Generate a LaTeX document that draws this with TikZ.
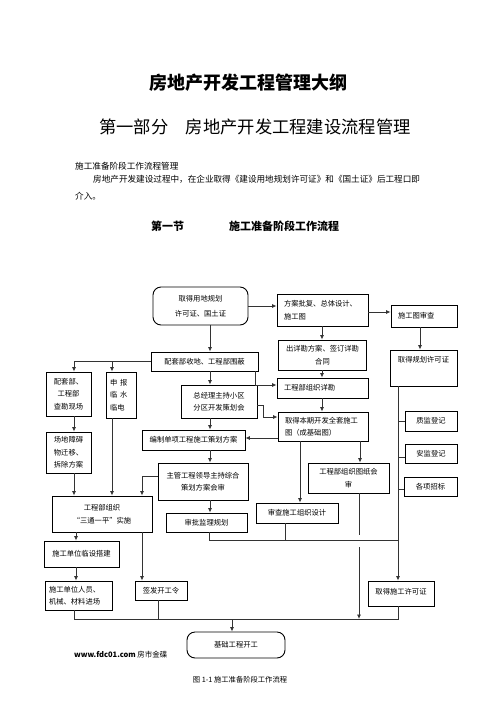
\documentclass[tikz,border=0pt]{standalone}
\usepackage{fontspec}
\setmainfont{Noto Sans CJK SC}
\usetikzlibrary{arrows.meta,calc}
\begin{document}
\begin{tikzpicture}[x=1pt,y=-1pt,
  box/.style={draw, line width=0.9pt, inner sep=2pt, font=\fontsize{7.3}{12.5}\selectfont, align=center},
  lbox/.style={box, align=left, inner xsep=7pt},
  rbox/.style={box, rounded corners=8pt},
  conn/.style={draw=black!80, line width=0.8pt},
  arr/.style={conn, -{Latex[length=4.5pt,width=4pt]}},
  txt/.style={inner sep=0pt},
]
\useasboundingbox (0,0) rectangle (496,702);
\fill[white] (0,0) rectangle (496,702);

% header texts
\node[txt, font=\fontsize{18}{20}\selectfont\bfseries] (title) at (248,83) {房地产开发工程管理大纲};
\node[txt, font=\fontsize{17.3}{20}\selectfont] (part) at (255,127) {第一部分\hspace{1em}房地产开发工程建设流程管理};
\node[txt, anchor=west, font=\fontsize{8.6}{10}\selectfont] (sub) at (75,166) {施工准备阶段工作流程管理};
\node[txt, anchor=west, font=\fontsize{8.6}{10}\selectfont] (para) at (93,179) {房地产开发建设过程中，在企业取得《建设用地规划许可证》和《国土证》后工程口即};
\node[txt, anchor=west, font=\fontsize{8.6}{10}\selectfont] (para2) at (75,196) {介入。};
\node[txt, font=\fontsize{11}{13}\selectfont\bfseries] (sec1) at (167.5,226) {第一节};
\node[txt, font=\fontsize{11}{13}\selectfont\bfseries] (sec2) at (284,226) {施工准备阶段工作流程};

% column / row coordinates
\foreach \xx in {74,76,112,142,158,209,210,232,255,263,285,300,322,359,360,398,420}
  \coordinate (x\xx) at (\xx,0);
\foreach \yy in {312,385,405,417,438,457,476,489,535,540,547,619}
  \coordinate (y\yy) at (0,\yy);

% boxes
\node[rbox, minimum width=95pt, minimum height=38pt] (A) at (200.5,306) {取得用地规划\\[2pt]许可证、国土证};
\node[lbox, text width=77pt, minimum height=32pt] (B) at (322.5,310) {方案批复、总体设计、\\施工图};
\node[lbox, text width=52pt, minimum height=22pt] (C) at (424,316) {施工图审查};
\node[box, text width=84pt, minimum height=30pt] (D) at (322.5,355) {出详勘方案、签订详勘\\合同};
\node[box, minimum width=67pt, minimum height=36pt, label={[anchor=north, inner sep=0pt, font=\fontsize{7.3}{9}\selectfont, yshift=-7pt]north:取得规划许可证}] (E) at (423.5,368) {};
\node[box, minimum width=107pt, minimum height=19pt] (F) at (204.5,361.5) {配套部收地、工程部围蔽};
\node[box, minimum width=45pt, minimum height=44pt] (G) at (68.5,394) {配套部、\\工程部\\查勘现场};
\node[lbox, inner xsep=4pt, text width=22pt, minimum height=46pt] (H) at (121,395) {申\hspace{0.4em}报\\临\hspace{0.4em}水\\临电};
\node[box, minimum width=76pt, minimum height=33pt] (I) at (219,401.5) {总经理主持小区\\分区开发策划会};
\node[lbox, text width=77pt, minimum height=20pt] (J) at (322.5,388) {工程部组织详勘};
\node[lbox, text width=76pt, minimum height=29pt] (K) at (323,426.5) {取得本期开发全套施工\\图（成基础图）};
\node[box, minimum width=52pt, minimum height=20pt] (L) at (431,421) {质监登记};
\node[box, minimum width=52pt, minimum height=19pt] (M) at (431,453.5) {安监登记};
\node[box, minimum width=53pt, minimum height=19pt] (N) at (430.5,486.5) {各项招标};
\node[box, minimum width=45pt, minimum height=41pt] (O) at (68.5,452.5) {场地障碍\\物迁移、\\拆除方案};
\node[box, minimum width=103pt, minimum height=20pt] (P) at (193.5,440) {编制单项工程施工策划方案};
\node[box, minimum width=90pt, minimum height=37pt] (Q) at (203,481.5) {主管工程领导主持综合\\策划方案会审};
\node[box, minimum width=81pt, minimum height=30pt] (R) at (348.5,478) {工程部组织图纸会\\审};
\node[box, minimum width=100pt, minimum height=36pt] (S) at (102,514) {工程部组织\\“三通一平”实施};
\node[box, minimum width=81pt, minimum height=19pt] (T) at (206.5,522.5) {审批监理规划};
\node[box, minimum width=82pt, minimum height=20pt] (U) at (297,513) {审查施工组织设计};
\node[box, minimum width=75pt, minimum height=26pt] (V) at (81.5,554) {施工单位临设搭建};
\node[lbox, inner xsep=4pt, text width=59pt, minimum height=29pt] (W) at (78.5,595.5) {施工单位人员、\\机械、材料进场};
\node[box, minimum width=52pt, minimum height=19pt] (X) at (161,590.5) {签发开工令};
\node[box, minimum width=66pt, minimum height=25pt, text depth=4pt] (Y) at (401,593.5) {取得施工许可证};
\node[rbox, minimum width=98pt, minimum height=26pt] (Z) at (236,645) {基础工程开工};

% connectors
\draw[arr] (A.south -| x210) -- (F.north -| x210);
\draw[arr] (A.east) -- (A.east -| B.west);
\draw[arr] (B.east |- y312) -- (C.west |- y312);
\draw[arr] (C.south -| x420) -- (E.north -| x420);
\draw[arr] (B.south -| x322) -- (D.north -| x322);
\draw[arr] (D.south -| x322) -- (J.north -| x322);
\draw[arr] (J.south -| x322) -- (K.north -| x322);
\draw[arr] (F.south -| x255) |- (J.west |- y385);
\draw[arr] (F.west) -| (G.north -| x74);
\draw[arr] (F.west -| x112) -- (H.north -| x112);
\draw[arr] (G.south -| x74) -- (O.north -| x74);
\draw[arr] (O.south -| x74) -- (S.north -| x74);
\draw[arr] (H.south -| x112) -- (S.north -| x112);
\draw[arr] (Q.west |- y476) -| (S.north -| x142);
\draw[arr] (F.south -| x210) -- (I.north -| x210);
\draw[arr] (I.south -| x210) -- (P.north -| x210);
\draw[arr] (P.south -| x210) -- (Q.north -| x210);
\draw[arr] (Q.south -| x210) -- (T.north -| x210);
\draw[arr] (I.east |- y405) -- (x263 |- y405) |- (K.west |- y417);
\draw[arr] (K.west |- y438) -- (P.east |- y438);
\draw[arr] (K.south -| x300) -- (U.north -| x300);
\draw[arr] (K.south -| x360) -- (R.north -| x360);
\draw[arr] (E.south -| x398) -- (Y.north -| x398);
\draw[conn] (x398 |- L.west) -- (L.west);
\draw[conn] (x398 |- y457) -- (M.west |- y457);
\draw[conn] (x398 |- y489) -- (N.west |- y489);
\draw[conn] (T.south -| x209) -- (x209 |- y540) -- (x398 |- y540);
\draw[conn] (U.south -| x285) -- (x285 |- y540);
\draw[conn] (R.south -| x359) -- (x359 |- y535);
\draw[arr] (x359 |- y547) -- (x359 |- y619);
\draw[arr] (S.south -| x76) -- (V.north -| x76);
\draw[arr] (V.south -| x76) -- (W.north -| x76);
\draw[arr] (S.south -| x142) -- (X.north -| x142);
\draw[conn] (W.south -| x74) -- (x74 |- y619) -- (x398 |- y619) -- (Y.south -| x398);
\draw[conn] (X.south -| x158) -- (x158 |- y619);
\draw[arr] (x232 |- y619) -- (Z.north -| x232);

% footer
\node[txt, anchor=west, font=\fontsize{7.5}{9}\selectfont] (web) at (74,655) {\textbf{www.fdc01.com} 房市金碟};
\node[txt, font=\fontsize{7.3}{9}\selectfont] (cap) at (240,680) {图 1-1 施工准备阶段工作流程};
\end{tikzpicture}
\end{document}
